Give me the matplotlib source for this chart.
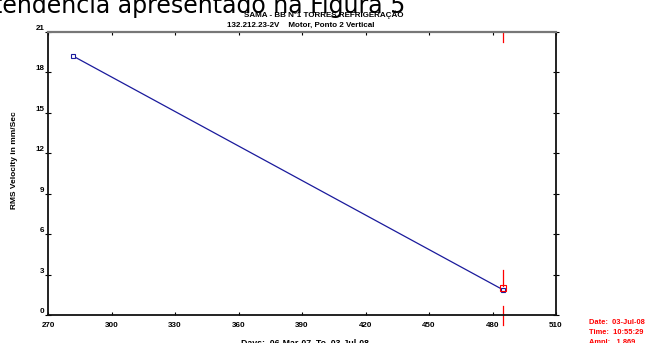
import matplotlib
matplotlib.use('Agg')
import matplotlib.pyplot as plt

# ================= 数据 =================
days = [282, 485]
rms_velocity = [19.2, 1.869]
x_ticks = [270, 300, 330, 360, 390, 420, 450, 480, 510]
y_ticks = [0, 3, 6, 9, 12, 15, 18, 21]

title = 'SAMA - BB Nº1 TORRES REFRIGERAÇÃO'
subtitle = '132.212.23-2V    Motor, Ponto 2 Vertical'
xlabel = 'Days:  06-Mar-07  To  03-Jul-08'
ylabel = 'RMS Velocity in mm/Sec'
cursor_info = ['Date:  03-Jul-08', 'Time:  10:55:29', 'Ampl:   1.869']
doc_text = 'tendência apresentado na Figura 5'

W, H = 651, 343
ARIAL = ['Liberation Sans', 'DejaVu Sans']


def fx(px):
    return px / W


def fy(py):
    return 1 - py / H


fig = plt.figure(figsize=(W / 100, H / 100), dpi=100)
ax = fig.add_axes([fx(48), fy(315), (556 - 48) / W, (315 - 32) / H])

ax.plot(days, rms_velocity, color='#1a1a9c', linewidth=0.9,
        marker='s', markersize=3.5, markerfacecolor='white',
        markeredgecolor='#1a1a9c', markeredgewidth=0.8)

# 光标（最后一个点）
cx, cy = days[-1], rms_velocity[-1]
ax.plot([cx], [cy + 0.12], marker='s', markersize=4.5, markerfacecolor='none',
        markeredgecolor='red', markeredgewidth=0.8, linestyle='none')
ax.plot([cx, cx], [21, 20.25], color='red', linewidth=0.9, clip_on=False)
ax.plot([cx, cx], [cy + 0.3, cy + 1.5], color='red', linewidth=0.9, clip_on=False)
ax.plot([cx, cx], [cy - 1.2, -0.75], color='red', linewidth=0.9, clip_on=False)

ax.set_xlim(270, 510)
ax.set_ylim(0, 21)
ax.set_xticks(x_ticks)
ax.set_yticks(y_ticks)

for lab in ax.get_xticklabels() + ax.get_yticklabels():
    lab.set_family(ARIAL)
    lab.set_fontweight('bold')
    lab.set_fontsize(5.8)

ax.tick_params(axis='x', direction='in', length=2.5, width=0.8, pad=5,
               top=True, bottom=True)
ax.tick_params(axis='y', direction='inout', length=4, width=0.8, pad=0.5,
               right=True, left=True)
for lab in ax.get_yticklabels():
    lab.set_verticalalignment('bottom')

for side in ['left', 'right', 'bottom']:
    ax.spines[side].set_linewidth(1.3)
    ax.spines[side].set_color('#111111')
ax.spines['top'].set_linewidth(1.6)
ax.spines['top'].set_color('#777777')

# 文字
fig.text(fx(324), fy(15), title, ha='center', va='center', fontsize=5.8,
         fontweight='bold', family=ARIAL)
fig.text(fx(301), fy(25), subtitle, ha='center', va='center', fontsize=5.8,
         fontweight='bold', family=ARIAL)
fig.text(fx(15), fy(160), ylabel, ha='center', va='center', rotation=90,
         fontsize=6, fontweight='bold', family=ARIAL)
fig.text(fx(305), fy(343), xlabel, ha='center', va='center', fontsize=6.3,
         fontweight='bold', family=ARIAL)
for i, line in enumerate(cursor_info):
    fig.text(fx(589), fy(322 + 10 * i), line, ha='left', va='center',
             fontsize=5.4, fontweight='bold', color='red', family=ARIAL)

fig.text(fx(405), fy(13), doc_text, ha='right', va='baseline', fontsize=17,
         family=['DejaVu Sans'])

fig.savefig('out.png', dpi=100)
